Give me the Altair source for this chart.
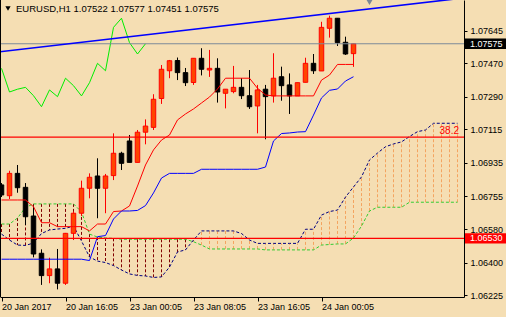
import altair as alt
import pandas as pd

# ---------------- data ----------------
bars = list(range(45))
opens = [1.06817, 1.06759, 1.06879, 1.06804, 1.06650, 1.06450, 1.06330, 1.06366, 1.06289, 1.06557,
         1.06665, 1.06799, 1.06865, 1.06799, 1.06867, 1.06987, 1.07053, 1.06938, 1.07100, 1.07126,
         1.07281, 1.07430, 1.07485, 1.07420, 1.07367, 1.07497, 1.07434, 1.07443, 1.07309, 1.07318,
         1.07341, 1.07296, 1.07241, 1.07331, 1.07295, 1.07398, 1.07354, 1.07295, 1.07368, 1.07470,
         1.07429, 1.07658, 1.07712, 1.07583, 1.07522]
highs = [1.06827, 1.06893, 1.06924, 1.06827, 1.06700, 1.06471, 1.06426, 1.06473, 1.06559, 1.06673,
         1.06840, 1.06879, 1.06960, 1.06876, 1.07094, 1.06995, 1.07085, 1.07112, 1.07169, 1.07304,
         1.07461, 1.07488, 1.07501, 1.07445, 1.07497, 1.07551, 1.07542, 1.07497, 1.07332, 1.07456,
         1.07390, 1.07434, 1.07354, 1.07354, 1.07524, 1.07452, 1.07416, 1.07366, 1.07500, 1.07520,
         1.07693, 1.07726, 1.07712, 1.07613, 1.07577]
lows = [1.06752, 1.06741, 1.06775, 1.06602, 1.06428, 1.06280, 1.06289, 1.06256, 1.06280, 1.06521,
        1.06650, 1.06745, 1.06638, 1.06665, 1.06843, 1.06897, 1.06938, 1.06938, 1.07035, 1.07112,
        1.07252, 1.07390, 1.07380, 1.07348, 1.07354, 1.07405, 1.07397, 1.07259, 1.07228, 1.07309,
        1.07278, 1.07225, 1.07094, 1.07062, 1.07259, 1.07269, 1.07198, 1.07295, 1.07368, 1.07413,
        1.07429, 1.07608, 1.07563, 1.07515, 1.07451]
closes = [1.06763, 1.06879, 1.06802, 1.06646, 1.06446, 1.06330, 1.06366, 1.06289, 1.06557, 1.06665,
          1.06799, 1.06858, 1.06799, 1.06865, 1.06987, 1.06933, 1.06938, 1.07100, 1.07133, 1.07277,
          1.07438, 1.07484, 1.07420, 1.07366, 1.07497, 1.07438, 1.07443, 1.07316, 1.07331, 1.07341,
          1.07296, 1.07237, 1.07327, 1.07291, 1.07390, 1.07350, 1.07295, 1.07366, 1.07470, 1.07430,
          1.07663, 1.07712, 1.07581, 1.07520, 1.07575]

tenkan = [1.06736, 1.06736, 1.06736, 1.06736, 1.06700, 1.06614, 1.06614, 1.06593, 1.06593, 1.06593,
          1.06593, 1.06570, 1.06607, 1.06607, 1.06674, 1.06677, 1.06704, 1.06811, 1.06924, 1.07005,
          1.07058, 1.07085, 1.07166, 1.07198, 1.07225, 1.07257, 1.07289, 1.07332, 1.07390, 1.07390,
          1.07390, 1.07390, 1.07336, 1.07300, 1.07295, 1.07295, 1.07295, 1.07295, 1.07295, 1.07295,
          1.07380, 1.07407, 1.07464, 1.07464, 1.07464]
kijun = [1.06418, 1.06418, 1.06418, 1.06418, 1.06418, 1.06418, 1.06418, 1.06418, 1.06418, 1.06418,
         1.06418, 1.06411, 1.06539, 1.06545, 1.06634, 1.06677, 1.06677, 1.06680, 1.06706, 1.06774,
         1.06854, 1.06879, 1.06879, 1.06879, 1.06879, 1.06901, 1.06901, 1.06901, 1.06901, 1.06901,
         1.06901, 1.06901, 1.06901, 1.06913, 1.07053, 1.07093, 1.07096, 1.07101, 1.07103, 1.07192,
         1.07284, 1.07325, 1.07332, 1.07375, 1.07398]

span_bars = list(range(58))
span_a = [1.06607, 1.06607, 1.06639, 1.06696, 1.06715, 1.06715, 1.06715, 1.06715, 1.06715, 1.06715,
          1.06672, 1.06553, 1.06537, 1.06532, 1.06530, 1.06525, 1.06525, 1.06525, 1.06525, 1.06525,
          1.06525, 1.06525, 1.06525, 1.06525, 1.06512, 1.06494, 1.06473, 1.06473, 1.06473, 1.06473,
          1.06473, 1.06473, 1.06473, 1.06468, 1.06468, 1.06468, 1.06468, 1.06468, 1.06468, 1.06468,
          1.06494, 1.06497, 1.06500, 1.06500, 1.06532, 1.06596, 1.06677, 1.06697, 1.06697, 1.06697,
          1.06697, 1.06724, 1.06724, 1.06724, 1.06724, 1.06724, 1.06724, 1.06724]
span_b = [1.06553, 1.06521, 1.06494, 1.06492, 1.06505, 1.06556, 1.06575, 1.06580, 1.06584, 1.06596,
          1.06516, 1.06430, 1.06408, 1.06400, 1.06384, 1.06360, 1.06339, 1.06331, 1.06328, 1.06320,
          1.06323, 1.06376, 1.06457, 1.06468, 1.06521, 1.06570, 1.06570, 1.06570, 1.06570, 1.06570,
          1.06556, 1.06521, 1.06503, 1.06503, 1.06503, 1.06503, 1.06503, 1.06503, 1.06579, 1.06579,
          1.06655, 1.06674, 1.06682, 1.06752, 1.06806, 1.06860, 1.06951, 1.06988, 1.07022, 1.07037,
          1.07048, 1.07077, 1.07103, 1.07112, 1.07148, 1.07148, 1.07148, 1.07148]
chikou_shift = 26

x_tick_bars = [0, 8, 16, 24, 32, 40]
x_tick_labels = ["20 Jan 2017", "20 Jan 16:05", "23 Jan 00:05", "23 Jan 08:05", "23 Jan 16:05", "24 Jan 00:05"]
y_tick_values = [1.06225, 1.06400, 1.06580, 1.06755, 1.06935, 1.07115, 1.07290, 1.07470, 1.07645]

bid_price = 1.07575
level_price = 1.06530
fib_price = 1.07074
fib_label = "38.2"
trend_bars = [-0.2, 57.8]
trend_prices = [1.07532, 1.07821]
shift_marker_bar = [46]
symbol = "EURUSD,H1"

# ---------------- frames ----------------
candles = pd.DataFrame({"i": bars, "o": opens, "h": highs, "l": lows, "c": closes})
candles["bull"] = candles["c"] >= candles["o"]
candles["body_top"] = candles[["o", "c"]].max(axis=1)
candles["body_bot"] = candles[["o", "c"]].min(axis=1)
candles["wick_col"] = candles["bull"].map({True: "#FF0000", False: "#000000"})
candles["fill_col"] = candles["bull"].map({True: "#FF4500", False: "#000000"})

lines = pd.DataFrame({"i": bars, "tenkan": tenkan, "kijun": kijun})
chikou = pd.DataFrame({"i": [b - chikou_shift for b in bars[chikou_shift:]],
                       "v": closes[chikou_shift:]})
cloud = pd.DataFrame({"i": span_bars, "a": span_a, "b": span_b})
cloud["col"] = [("#800000" if a >= b else "#F4A460") for a, b in zip(span_a, span_b)]

hlines = pd.DataFrame({"p": [bid_price, fib_price, level_price],
                       "col": ["#7D8A99", "#FF0000", "#FF0000"],
                       "w": [1.0, 1.3, 1.3]})
trend = pd.DataFrame({"i": trend_bars, "p": trend_prices})
tags = pd.DataFrame({"p": [bid_price, level_price], "col": ["#000000", "#FF0000"],
                     "txt": [f"{bid_price:.5f}", f"{level_price:.5f}"]})
fib = pd.DataFrame({"p": [fib_price], "txt": [fib_label]})
marker = pd.DataFrame({"i": shift_marker_bar})
title_text = f"{symbol}  {opens[-1]:.5f} {highs[-1]:.5f} {lows[-1]:.5f} {closes[-1]:.5f}"
title_df = pd.DataFrame({"t": [title_text]})

# ---------------- scales / axes ----------------
W, H = 464, 297
FONT = "Liberation Sans"
xs = alt.Scale(domain=[-0.1875, 57.8125], nice=False, zero=False)
ys = alt.Scale(domain=[1.062151, 1.07810], nice=False, zero=False)

label_expr = ""
for b, t in zip(x_tick_bars, x_tick_labels):
    label_expr += f"datum.value == {b} ? '{t}' : "
label_expr += "''"

x_axis = alt.Axis(values=x_tick_bars, labelExpr=label_expr, labelAlign="left", labelBaseline="top",
                  tickSize=4, labelPadding=1, domainColor="#000000", tickColor="#000000",
                  labelColor="#000000", labelFont=FONT, labelFontSize=9, grid=False, title=None,
                  labelFlush=False, labelOverlap=False)
y_axis = alt.Axis(orient="right", values=y_tick_values, format=".5f", tickSize=3, labelPadding=3,
                  domainColor="#000000", tickColor="#000000", labelColor="#000000",
                  labelFont=FONT, labelFontSize=9, grid=False, title=None,
                  labelFlush=False, labelOverlap=False)


def X(f):
    return alt.X(f, type="quantitative", scale=xs, axis=x_axis)


def Y(f):
    return alt.Y(f, type="quantitative", scale=ys, axis=y_axis)


# ---------------- layers ----------------
hatch = alt.Chart(cloud).mark_rule(strokeWidth=1, strokeDash=[3, 2], clip=True).encode(
    x=X("i"), y=Y("a"), y2="b", color=alt.Color("col:N", scale=None))

span_a_line = alt.Chart(cloud).mark_line(color="#32CD32", strokeWidth=1, strokeDash=[3, 2], clip=True).encode(
    x=X("i"), y=Y("a"))
span_b_line = alt.Chart(cloud).mark_line(color="#000080", strokeWidth=1, strokeDash=[3, 2], clip=True).encode(
    x=X("i"), y=Y("b"))

wicks = alt.Chart(candles).mark_rule(strokeWidth=1, clip=True).encode(
    x=X("i"), y=Y("l"), y2="h", color=alt.Color("wick_col:N", scale=None))

bodies = alt.Chart(candles).transform_calculate(
    x1="datum.i - 0.28", x2="datum.i + 0.28"
).mark_rect(strokeWidth=1, clip=True).encode(
    x=X("x1"), x2="x2", y=Y("body_top"), y2="body_bot",
    fill=alt.Fill("fill_col:N", scale=None), stroke=alt.Stroke("wick_col:N", scale=None))

tenkan_line = alt.Chart(lines).mark_line(color="#FF0000", strokeWidth=1, clip=True).encode(
    x=X("i"), y=Y("tenkan"))
kijun_line = alt.Chart(lines).mark_line(color="#0000FF", strokeWidth=1, clip=True).encode(
    x=X("i"), y=Y("kijun"))
chikou_line = alt.Chart(chikou).mark_line(color="#00EE00", strokeWidth=1, clip=True).encode(
    x=X("i"), y=Y("v"))

hrules = alt.Chart(hlines).mark_rule(clip=True).encode(
    y=Y("p"), color=alt.Color("col:N", scale=None), strokeWidth=alt.StrokeWidth("w:Q", scale=None))

trend_line = alt.Chart(trend).mark_line(color="#0000FF", strokeWidth=1.6, clip=True).encode(
    x=X("i"), y=Y("p"))

fib_text = alt.Chart(fib).mark_text(color="#FF0000", font=FONT, fontSize=10, align="right",
                                    baseline="bottom", dy=-1).encode(
    x=alt.value(459), y=Y("p"), text="txt:N")

tag_rects = alt.Chart(tags).transform_calculate(
    top="datum.p + 0.00028", bot="datum.p - 0.00028"
).mark_rect().encode(
    x=alt.value(465), x2=alt.value(506), y=Y("top"), y2="bot", color=alt.Color("col:N", scale=None))
tag_texts = alt.Chart(tags).mark_text(color="#FFFFFF", font=FONT, fontSize=9, align="left",
                                      baseline="middle").encode(
    x=alt.value(470), y=Y("p"), text="txt:N")

shift_mark = alt.Chart(marker).mark_point(shape="triangle-down", filled=True, size=70,
                                          color="#7A8898", opacity=1).encode(
    x=X("i"), y=alt.value(1.5))

left_border = alt.Chart(title_df).mark_rule(color="#000000", strokeWidth=1).encode(
    x=alt.value(0.5), y=alt.value(0), y2=alt.value(H))

title_tri = alt.Chart(title_df).mark_point(shape="triangle-down", filled=True, size=28,
                                           color="#000000", opacity=1).encode(
    x=alt.value(8), y=alt.value(8.5))
title_mark = alt.Chart(title_df).mark_text(color="#000000", font=FONT, fontSize=9.5, align="left",
                                           baseline="middle").encode(
    x=alt.value(16), y=alt.value(8.5), text="t:N")

chart = alt.layer(
    hatch, span_a_line, span_b_line, wicks, bodies, tenkan_line, kijun_line, chikou_line,
    hrules, trend_line, fib_text, tag_rects, tag_texts, shift_mark, left_border, title_tri, title_mark
).properties(
    width=W, height=H,
    background="#F5DEB3",
    padding={"left": 0, "top": 0, "right": 506 - W, "bottom": 317 - H},
    autosize=alt.AutoSizeParams(type="none"),
).configure_view(stroke=None)

chart.save("out.html", embed_options={"renderer": "svg", "actions": False})
